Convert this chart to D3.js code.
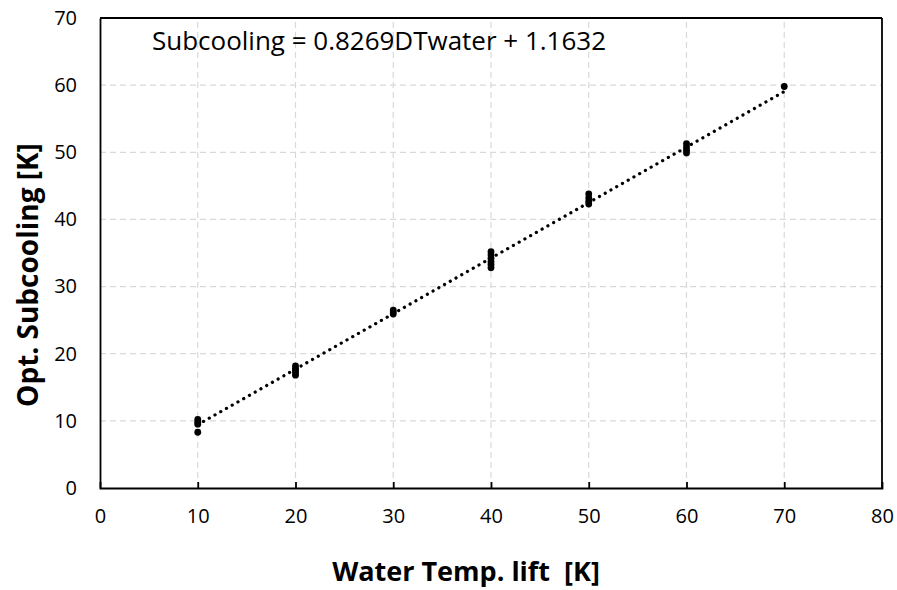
<!DOCTYPE html>
<html><head><meta charset="utf-8">
<script src="https://cdn.jsdelivr.net/npm/d3@7"></script>
<style>body{margin:0;background:#fff}svg{display:block}</style>
</head><body>
<script>
const xTicks = [0,10,20,30,40,50,60,70,80];
const yTicks = [0,10,20,30,40,50,60,70];
const lift = [10,10,10,10, 20,20,20,20,20, 30,30,30, 40,40,40,40,40,40, 50,50,50,50, 60,60,60,60, 70];
const subcooling = [10.2,9.8,9.5,8.3, 18.2,17.8,17.5,17.2,16.8, 26.5,26.2,25.9, 35.2,34.7,34.2,33.7,33.3,32.8, 43.8,43.2,42.7,42.3, 51.3,50.8,50.3,49.9, 59.8];
const slope = 0.8269, intercept = 1.1632;
const fitRange = [10,70];
const equation = "Subcooling = 0.8269DTwater + 1.1632";
const xTitle = "Water Temp. lift  [K]";
const yTitle = "Opt. Subcooling [K]";

const W=897,H=590;
const m={l:100,r:15,t:18,b:102};
const svg=d3.select("body").append("svg").attr("width",W).attr("height",H);
const x=d3.scaleLinear().domain([0,80]).range([m.l,W-m.r]);
const y=d3.scaleLinear().domain([0,70]).range([H-m.b,m.t]);
const font="Open Sans, sans-serif";

const g=svg.append("g");
g.selectAll(".gx").data(xTicks.slice(1,-1)).join("line")
 .attr("x1",d=>x(d)).attr("x2",d=>x(d)).attr("y1",y(0)).attr("y2",y(70))
 .attr("stroke","#d9d9d9").attr("stroke-width",1.2).attr("stroke-dasharray","6,4");
g.selectAll(".gy").data(yTicks.slice(1,-1)).join("line")
 .attr("y1",d=>y(d)).attr("y2",d=>y(d)).attr("x1",x(0)).attr("x2",x(80))
 .attr("stroke","#d9d9d9").attr("stroke-width",1.2).attr("stroke-dasharray","6,4");

const xa=svg.append("g").attr("transform",`translate(0,${y(0)})`)
 .call(d3.axisBottom(x).tickValues(xTicks).tickSize(-6).tickPadding(21));
const ya=svg.append("g").attr("transform",`translate(${x(0)},0)`)
 .call(d3.axisLeft(y).tickValues(yTicks).tickSize(0).tickPadding(23));
[xa,ya].forEach(a=>{a.select(".domain").attr("stroke","#000").attr("stroke-width",1.8);
 a.selectAll(".tick line").attr("stroke","#000").attr("stroke-width",1.8);
 a.selectAll("text").attr("font-family",font).attr("font-size",20).attr("fill","#000");});
xa.selectAll(".tick").filter(d=>d===0||d===80).select("line").remove();
svg.append("line").attr("x1",x(0)).attr("x2",x(80)).attr("y1",y(70)).attr("y2",y(70)).attr("stroke","#000").attr("stroke-width",1.8);
svg.append("line").attr("x1",x(80)).attr("x2",x(80)).attr("y1",y(70)).attr("y2",y(0)).attr("stroke","#000").attr("stroke-width",1.8);

svg.append("line").attr("x1",x(fitRange[0])).attr("y1",y(slope*fitRange[0]+intercept))
 .attr("x2",x(fitRange[1])).attr("y2",y(slope*fitRange[1]+intercept))
 .attr("stroke","#000").attr("stroke-width",3.2).attr("stroke-linecap","round").attr("stroke-dasharray","0.1,6.5");

svg.selectAll(".pt").data(lift.map((d,i)=>[d,subcooling[i]])).join("circle")
 .attr("cx",d=>x(d[0])).attr("cy",d=>y(d[1])).attr("r",3.4).attr("fill","#000");

svg.append("text").attr("x",152).attr("y",50).attr("font-family",font).attr("font-size",25)
 .attr("textLength",454).attr("lengthAdjust","spacingAndGlyphs").style("white-space","pre").text(equation);

svg.append("text").attr("x",466).attr("y",581).attr("text-anchor","middle")
 .attr("font-family",font).attr("font-size",27).attr("font-weight","bold").style("white-space","pre").text(xTitle);
svg.append("text").attr("transform",`translate(38,${275}) rotate(-90)`).attr("text-anchor","middle")
 .attr("font-family",font).attr("font-size",28).attr("font-weight","bold").text(yTitle);
</script>
</body></html>
